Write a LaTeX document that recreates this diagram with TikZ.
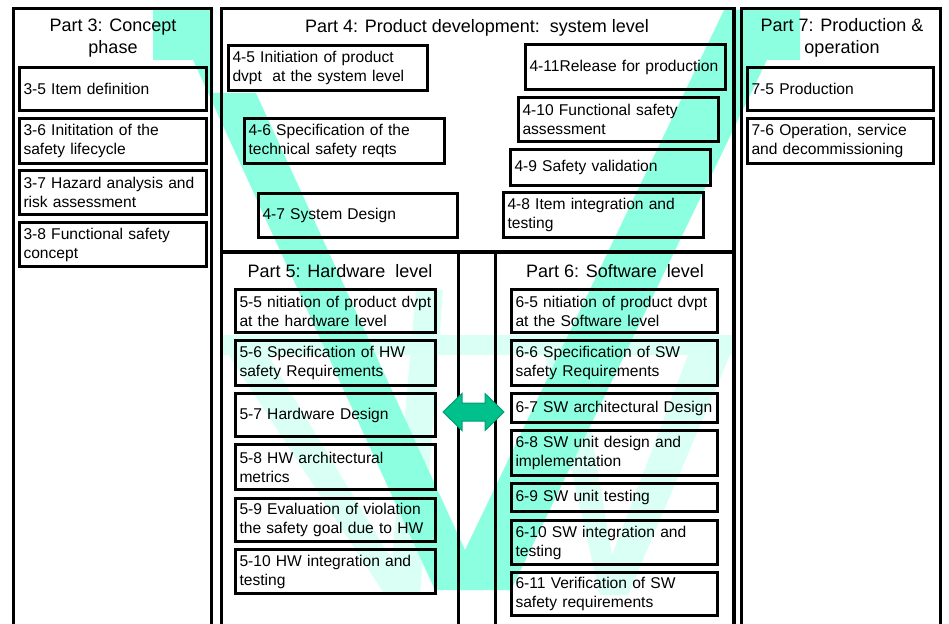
\documentclass[tikz,border=0pt]{standalone}
\usepackage{fontspec}
\setmainfont{Liberation Sans}
\usepackage{xcolor}
\usetikzlibrary{positioning}

\definecolor{vbright}{RGB}{140,255,224}
\definecolor{vlight}{RGB}{218,255,244}
\definecolor{arrfill}{RGB}{0,192,140}
\definecolor{arrline}{RGB}{0,158,114}

\begin{document}
\begin{tikzpicture}[x=1pt,y=-1pt,
  panel/.style={draw,line width=3.4pt},
  title/.style={font=\fontsize{18}{22}\selectfont,align=center,inner sep=0pt},
  item/.style={draw,line width=3pt,outer sep=0pt,anchor=north west,
    inner xsep=4pt,inner ysep=0pt,align=left,
    font=\fontsize{15.6}{19}\selectfont},
  it/.style 2 args={item,minimum width=#1,text width=#1-8pt,minimum height=#2}]
\useasboundingbox (0,0) rectangle (949,623);

% background V shapes
\fill[vlight] (222,335) rectangle (734,355);
\fill[vlight] (222,345) -- (262,345) -- (392,560) -- (416,290) -- (443,290) -- (420,595) -- (385,595) -- cycle;
\fill[vlight] (545,355) -- (578,355) -- (612,555) -- (688,355) -- (730,355) -- (628,595) -- (600,595) -- cycle;
\fill[vbright] (435,590) -- (193,60) -- (153,60) -- (153,10) -- (213,10) -- (213,93) -- (256,93)
  -- (465,550) -- (724,10) -- (800,10) -- (800,60) -- (767,60) -- (511,590) -- cycle;

% panels
\draw[panel] (13.5,8.5) rectangle (211.5,630);
\draw[panel] (221.5,8.5) rectangle (734,252);
\draw[panel] (221.5,252) rectangle (458.5,630);
\draw[panel] (495.5,252) rectangle (734,630);
\draw[panel] (741.5,8.5) rectangle (940.5,630);

\node (t3) [title] at (113,38) {Part 3: Concept\\phase};
\node (t4) [title] at (477,27.5) {Part 4: Product development:\ \ system level};
\node (t5) [title] at (340,271) {Part 5: Hardware\ \ level};
\node (t6) [title] at (615,271) {Part 6: Software\ \ level};
\node (t7) [title] at (842,38) {Part 7: Production \&\\operation};

% part 3
\node (b35) [it={187pt}{43pt}] at (19.5,67.5) {3-5 Item definition};
\node (b36) [it={187pt}{45pt}] at (19.5,118.5) {3-6 Inititation of the\\safety lifecycle};
\node (b37) [it={187pt}{44pt}] at (19.5,170.5) {3-7 Hazard analysis and\\risk assessment};
\node (b38) [it={187pt}{44pt}] at (19.5,222.5) {3-8 Functional safety\\concept};

% part 4
\node (b45) [it={199pt}{45pt},fill=white] at (228.5,45.5) {4-5 Initiation of product\\dvpt\ \ at the system level};
\node (b46) [it={200pt}{45pt}] at (244.5,118.5) {4-6 Specification of the\\technical safety reqts};
\node (b47) [it={199pt}{44pt}] at (258.5,193.5) {4-7 System Design};
\node (b411) [it={200pt}{45pt}] at (525.5,44.5) {4-11Release for production};
\node (b410) [it={200pt}{44pt}] at (518.5,97.5) {4-10 Functional safety\\assessment};
\node (b49) [it={200pt}{36pt}] at (510.5,149.5) {4-9 Safety validation};
\node (b48) [it={200pt}{45pt}] at (503.5,192.5) {4-8 Item integration and\\testing};

% part 7
\node (b75) [it={186pt}{43pt}] at (747.5,67.5) {7-5 Production};
\node (b76) [it={186pt}{45pt}] at (747.5,118.5) {7-6 Operation, service\\and decommissioning};

% part 5
\node (b55) [it={200pt}{43pt}] at (235.5,289.5) {5-5 nitiation of product dvpt\\at the hardware level};
\node (b56) [it={200pt}{45pt}] at (235.5,340.5) {5-6 Specification of HW\\safety Requirements};
\node (b57) [it={200pt}{43pt}] at (235.5,393.5) {5-7 Hardware Design};
\node (b58) [it={200pt}{45pt}] at (235.5,444.5) {5-8 HW architectural\\metrics};
\node (b59) [it={200pt}{43pt}] at (235.5,498.5) {5-9 Evaluation of violation\\the safety goal due to HW};
\node (b510) [it={200pt}{44pt}] at (235.5,549.5) {5-10 HW integration and\\testing};

% part 6
\node (b65) [it={206pt}{43pt}] at (511.5,289.5) {6-5 nitiation of product dvpt\\at the Software level};
\node (b66) [it={206pt}{45pt}] at (511.5,340.5) {6-6 Specification of SW\\safety Requirements};
\node (b67) [it={206pt}{29pt}] at (511.5,393.5) {6-7 SW architectural Design};
\node (b68) [it={206pt}{45pt}] at (511.5,430.5) {6-8 SW unit design and\\implementation};
\node (b69) [it={206pt}{28pt}] at (511.5,483.5) {6-9 SW unit testing};
\node (b610) [it={206pt}{44pt}] at (511.5,520.5) {6-10 SW integration and\\testing};
\node (b611) [it={206pt}{43pt}] at (511.5,572.5) {6-11 Verification of SW\\safety requirements};

% HW <-> SW arrow
\coordinate (hw) at (443,412);
\coordinate (sw) at (504,412);
\filldraw[fill=arrfill,draw=arrline,line width=1pt] (hw) -- ++(19,-18.5) -- ++(0,9.5) -- (485,403) -- ++(0,-9.5)
  -- (sw) -- (485,430.5) -- ++(0,-9.5) -- (462,421) -- ++(0,9.5) -- cycle;
\end{tikzpicture}
\end{document}
